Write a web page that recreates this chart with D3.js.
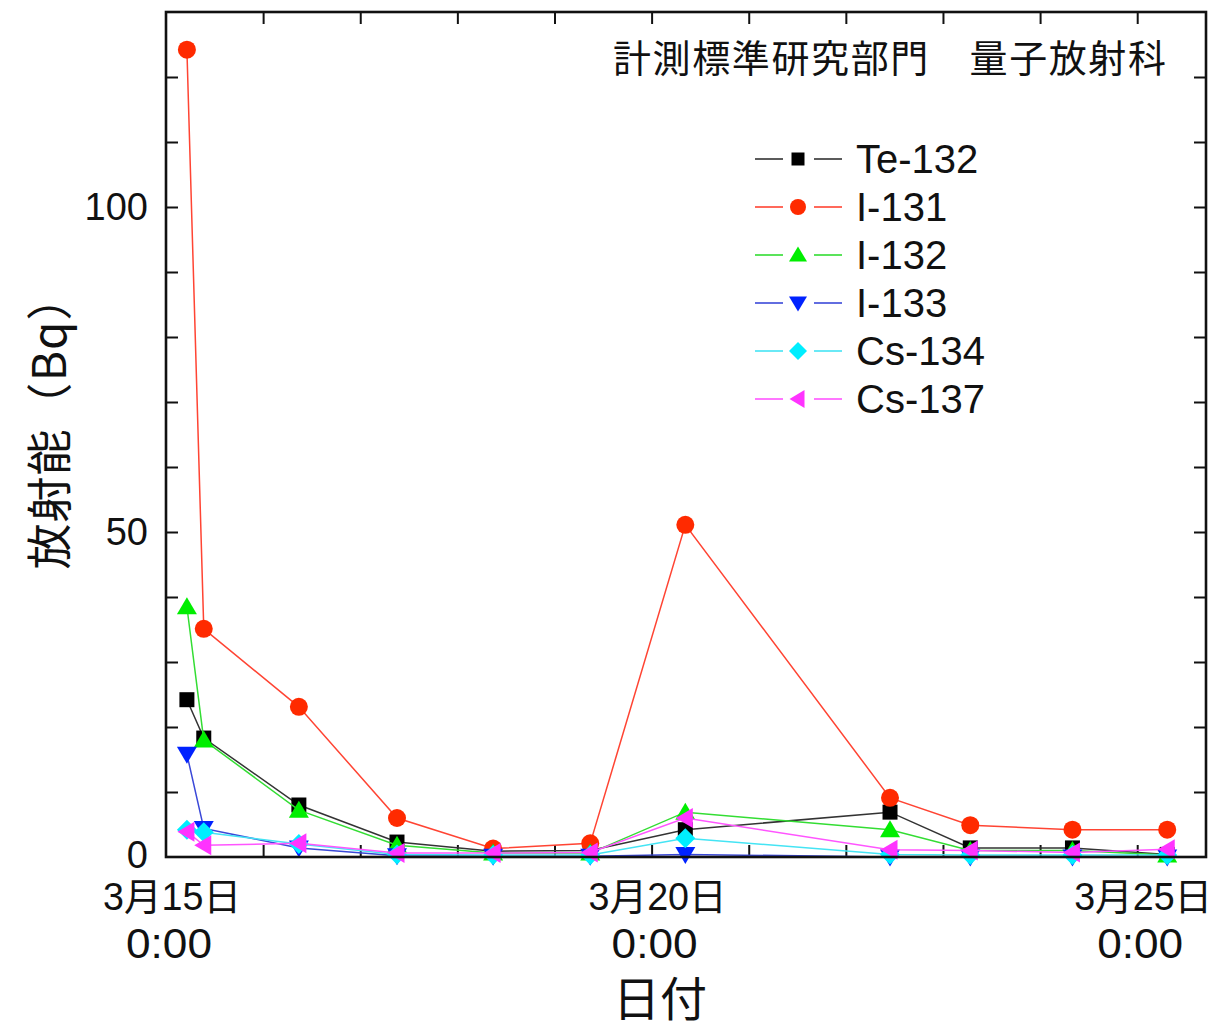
<!DOCTYPE html>
<html>
<head>
<meta charset="utf-8">
<script src="https://cdn.jsdelivr.net/npm/d3@7"></script>
<style>
html,body{margin:0;padding:0;background:#fff;}
svg{display:block;}
</style>
</head>
<body>
<svg id="chart" width="1217" height="1032"></svg>
<script>
// ---- data ----
const sampleTimes = ["2011-03-15T05:10","2011-03-15T09:20","2011-03-16T08:50","2011-03-17T09:05","2011-03-18T08:50","2011-03-19T08:50","2011-03-20T08:20","2011-03-22T10:55","2011-03-23T06:45","2011-03-24T08:00","2011-03-25T07:25"];
const seriesNames = ["Te-132","I-131","I-132","I-133","Cs-134","Cs-137"];
const te132 = [24.2, 18.3, 8.0, 2.3, 0.9, 1.0, 4.2, 6.9, 1.4, 1.4, 0.4];
const i131  = [124.2, 35.1, 23.1, 6.0, 1.3, 2.1, 51.1, 9.1, 4.9, 4.2, 4.2];
const i132  = [38.5, 18.0, 7.2, 1.8, 0.6, 0.6, 6.9, 4.2, 1.0, 1.0, 0.3];
const i133  = [15.8, 4.4, 1.4, 0.2, 0.1, 0.1, 0.4, 0.0, 0.0, 0.0, 0.0];
const cs134 = [4.2, 3.8, 2.0, 0.4, 0.3, 0.3, 2.9, 0.4, 0.3, 0.3, 0.3];
const cs137 = [3.9, 1.8, 2.1, 0.6, 0.6, 0.7, 6.0, 1.1, 1.0, 0.7, 1.2];
const yTickValues = [0,10,20,30,40,50,60,70,80,90,100,110,120,130];
const yLabelValues = [0,50,100];
const xLabelDates = ["2011-03-15","2011-03-20","2011-03-25"];
const xLabelLine1 = ["3月15日","3月20日","3月25日"];
const xLabelLine2 = ["0:00","0:00","0:00"];
const yTitle = "放射能（Bq）";
const xTitle = "日付";
const note = "計測標準研究部門　量子放射科";

// ---- styles ----
const markerColors = ["#000000","#ff2a00","#00ee00","#0022ff","#00eeff","#ff33ff"];
const lineColors   = ["#333333","#ff4433","#33dd33","#3a48d8","#44e4f4","#ff55ff"];
const shapes = [
  "M-7.5,-7.5h15v15h-15z",
  d3.symbol(d3.symbolCircle, Math.PI*9*9)(),
  "M0,-9.5L10,7.5L-10,7.5Z",
  "M0,9.5L10,-7.5L-10,-7.5Z",
  "M0,-10L10,0L0,10L-10,0Z",
  "M-9.5,0L7.5,-10L7.5,10Z"
];
const legendShapes = [
  "M-6.5,-6.5h13v13h-13z",
  d3.symbol(d3.symbolCircle, Math.PI*8*8)(),
  "M0,-8.5L9,6.5L-9,6.5Z",
  "M0,8.5L9,-6.5L-9,-6.5Z",
  "M0,-9L9,0L0,9L-9,0Z",
  "M-8.5,0L6.5,-9L6.5,9Z"
];
const allValues = [te132,i131,i132,i133,cs134,cs137];

const parseT = d3.timeParse("%Y-%m-%dT%H:%M");
const parseD = d3.timeParse("%Y-%m-%d");
const times = sampleTimes.map(parseT);

const L = 166, R = 1206, T = 12, B = 857;
const svg = d3.select("#chart");

const x = d3.scaleTime()
  .domain([new Date(2011,2,15,0,0), new Date(2011,2,25,17,0)])
  .range([L, R]);
const y = d3.scaleLinear().domain([0,130]).range([B, T]);

// axes (inward ticks)
const tickStyle = g => {
  g.select(".domain").remove();
  g.selectAll(".tick line").attr("stroke","#111").attr("stroke-width",2);
};
const dayTicks = d3.timeDay.range(new Date(2011,2,16), new Date(2011,2,26));

svg.append("g").attr("transform",`translate(0,${B})`)
  .call(d3.axisBottom(x).tickValues(dayTicks).tickSize(-12).tickFormat(""))
  .call(tickStyle);
svg.append("g").attr("transform",`translate(0,${T})`)
  .call(d3.axisTop(x).tickValues(dayTicks).tickSize(-12).tickFormat(""))
  .call(tickStyle);
svg.append("g").attr("transform",`translate(${L},0)`)
  .call(d3.axisLeft(y).tickValues(yTickValues.slice(1,-1)).tickSize(-12).tickFormat(""))
  .call(tickStyle);
svg.append("g").attr("transform",`translate(${R},0)`)
  .call(d3.axisRight(y).tickValues(yTickValues.slice(1,-1)).tickSize(-12).tickFormat(""))
  .call(tickStyle);

// y tick labels
svg.append("g").selectAll("text").data(yLabelValues).join("text")
  .attr("x", L-18).attr("y", d => y(d) - (d === 0 ? 2 : 0))
  .attr("text-anchor","end").attr("dominant-baseline","central")
  .attr("font-family","Liberation Sans, Arial, sans-serif")
  .attr("font-size",38).attr("fill","#111")
  .text(d => d);

// x tick labels
const xl = svg.append("g").attr("fill","#111");
xLabelDates.forEach((ds,i) => {
  const cx = x(parseD(ds));
  xl.append("text").attr("x", cx+6).attr("y", 897)
    .attr("text-anchor","middle").attr("dominant-baseline","central")
    .attr("font-family","Liberation Sans, 'Noto Sans CJK JP', sans-serif")
    .attr("font-size",38).attr("textLength",138).attr("lengthAdjust","spacingAndGlyphs")
    .text(xLabelLine1[i]);
  xl.append("text").attr("x", cx+3).attr("y", 943)
    .attr("text-anchor","middle").attr("dominant-baseline","central")
    .attr("font-family","Liberation Sans, Arial, sans-serif")
    .attr("font-size",42).attr("textLength",86).attr("lengthAdjust","spacingAndGlyphs")
    .text(xLabelLine2[i]);
});

// axis titles
svg.append("text").attr("x",660).attr("y",999)
  .attr("text-anchor","middle").attr("dominant-baseline","central")
  .attr("font-family","Liberation Sans, 'Noto Sans CJK JP', sans-serif").attr("font-size",47).attr("fill","#111")
  .text(xTitle);
svg.append("text").attr("transform","translate(46,422) rotate(-90)")
  .attr("text-anchor","middle").attr("dominant-baseline","central")
  .attr("font-family","'Noto Sans CJK JP', sans-serif").attr("font-size",46).attr("fill","#111")
  .attr("textLength",295).attr("lengthAdjust","spacing")
  .text(yTitle);

// note
svg.append("text").attr("x",1166).attr("y",55)
  .attr("text-anchor","end").attr("dominant-baseline","central")
  .attr("font-family","'Noto Sans CJK JP', sans-serif").attr("font-size",38).attr("fill","#111")
  .attr("textLength",553).attr("lengthAdjust","spacing")
  .text(note);

// series
const line = d3.line().x(d => x(d.t)).y(d => y(d.v));
const plot = svg.append("g");
allValues.forEach((vals,si) => {
  const pts = vals.map((v,i) => ({t: times[i], v}));
  plot.append("path").datum(pts).attr("d", line)
    .attr("fill","none").attr("stroke", lineColors[si]).attr("stroke-width",1.5);
  plot.append("g").selectAll("path").data(pts).join("path")
    .attr("d", shapes[si])
    .attr("transform", d => `translate(${x(d.t)},${y(d.v)})`)
    .attr("fill", markerColors[si]);
});

// frame
svg.append("rect").attr("x",L).attr("y",T).attr("width",R-L).attr("height",B-T)
  .attr("fill","none").attr("stroke","#111").attr("stroke-width",2.6);

// legend
const lg = svg.append("g");
seriesNames.forEach((name,i) => {
  const ly = 159 + i*48;
  lg.append("line").attr("x1",755).attr("x2",783).attr("y1",ly).attr("y2",ly)
    .attr("stroke", lineColors[i]).attr("stroke-width",1.6);
  lg.append("line").attr("x1",814).attr("x2",842).attr("y1",ly).attr("y2",ly)
    .attr("stroke", lineColors[i]).attr("stroke-width",1.6);
  lg.append("path").attr("d", legendShapes[i]).attr("transform",`translate(798,${ly})`)
    .attr("fill", markerColors[i]);
  lg.append("text").attr("x",856).attr("y",ly)
    .attr("dominant-baseline","central")
    .attr("font-family","Liberation Sans, Arial, sans-serif").attr("font-size",40).attr("fill","#111")
    .text(name);
});
</script>
</body>
</html>
